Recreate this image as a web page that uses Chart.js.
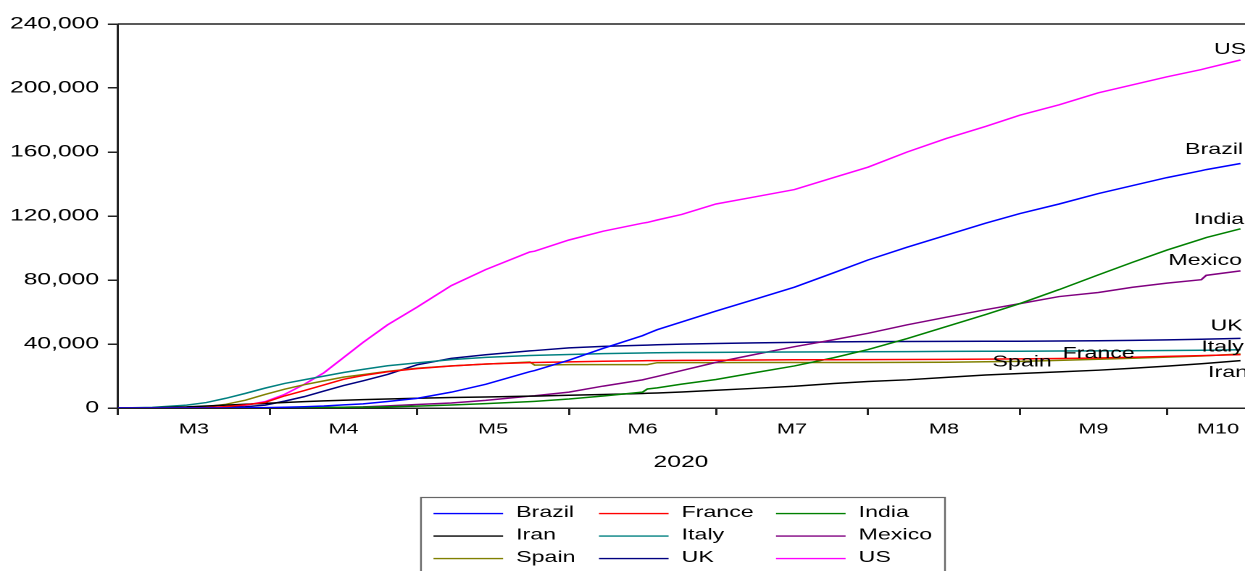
<!DOCTYPE html>
<html>
<head>
<meta charset="utf-8">
<script src="https://cdn.jsdelivr.net/npm/chart.js@4.4.0/dist/chart.umd.min.js"></script>
<style>
  html, body { margin: 0; padding: 0; background: #fff; overflow: hidden; }
  /* the picture is a horizontally stretched EViews graph: draw narrow, stretch in CSS */
  #caja { position: absolute; left: 0; top: 0; width: 859px; height: 571px;
          transform: scaleX(1.44936); transform-origin: 0 0; }
</style>
</head>
<body>
<div id="caja"><canvas id="grafico"></canvas></div>
<script>
const S = 1245 / 859;           // stretch factor
const FUENTE = '"Liberation Sans", Arial, sans-serif';

// day index: 0 = 1 March 2020
const dias = [0, 7, 14, 18, 22, 26, 30, 34, 38, 42, 46, 50, 55, 61, 68, 75, 84, 85, 92, 99,
  107, 108, 110, 115, 122, 130, 138, 146, 153, 161, 169, 177, 184, 192, 200, 207, 214, 221, 222, 229];

const brazil = [0, 0, 0, 4, 34, 92, 201, 445, 800, 1220, 1950, 2580, 4050, 6000, 9900, 14800, 22700, 23400, 29900, 37300,
  45200, 46500, 48950, 53800, 60600, 68000, 75500, 84500, 92500, 100500, 108000, 115500, 121500, 127500, 134000, 139000, 144000, 148300, 149000, 152800];
const france = [2, 19, 91, 244, 860, 1995, 3528, 7574, 10887, 14412, 17941, 20292, 22648, 24628, 26233, 27532, 28370, 28460, 28836, 29212,
  29550, 29578, 29640, 29734, 29864, 30007, 30155, 30195, 30268, 30324, 30410, 30528, 30686, 30916, 31257, 31700, 32230, 32700, 32800, 33340];
const india = [0, 0, 2, 4, 10, 20, 35, 83, 170, 300, 440, 560, 820, 1150, 1900, 2750, 4000, 4170, 5600, 7500,
  9900, 11900, 12600, 14900, 17800, 22100, 26300, 31400, 36500, 43400, 50900, 58400, 65300, 74000, 83200, 91100, 98700, 105500, 106500, 112000];
const iran = [54, 194, 724, 1284, 1812, 2378, 2898, 3452, 3993, 4474, 4869, 5209, 5650, 6091, 6541, 6902, 7417, 7451, 7942, 8425,
  9065, 9185, 9392, 9996, 11106, 12305, 13608, 15289, 16569, 17617, 19162, 20643, 21571, 22542, 23632, 24840, 26169, 27658, 27888, 29605];
const italy = [34, 366, 1809, 3405, 6077, 9134, 12428, 15362, 17669, 19899, 22170, 24114, 26384, 28236, 30201, 31610, 32785, 32877, 33475, 33964,
  34405, 34448, 34561, 34675, 34788, 34914, 35028, 35107, 35154, 35205, 35405, 35445, 35491, 35587, 35692, 35818, 35918, 36083, 36111, 36427];
const mexico = [0, 0, 0, 1, 4, 16, 29, 79, 174, 296, 486, 712, 1351, 2154, 3160, 4767, 7394, 7633, 9930, 13699,
  17580, 18310, 19747, 23377, 28510, 33526, 38310, 42645, 46688, 52006, 56757, 61450, 65241, 69649, 72179, 75439, 78078, 80200, 82900, 85700];
const spain = [0, 17, 288, 831, 2311, 4858, 8464, 11744, 14555, 16972, 19315, 20852, 22902, 24824, 26299, 27459, 28752, 26834, 27127, 27136,
  27136, 27136, 28315, 28327, 28364, 28401, 28420, 28432, 28445, 28503, 28617, 28924, 29152, 29747, 30495, 31118, 31791, 32486, 32688, 33775];
const uk = [0, 3, 21, 144, 335, 760, 1800, 4300, 7100, 10600, 14000, 17000, 21000, 27000, 31000, 33300, 35700, 35900, 37600, 38500,
  39200, 39300, 39500, 39900, 40300, 40700, 41000, 41300, 41450, 41550, 41650, 41700, 41750, 41850, 42050, 42300, 42600, 43000, 43050, 43500];
const us = [1, 21, 68, 200, 550, 1700, 4000, 8500, 14800, 22000, 31500, 41000, 52000, 63000, 76500, 86500, 97500, 98000, 105000, 110500,
  115500, 116000, 117500, 121000, 127500, 132000, 136500, 144000, 150500, 160000, 168500, 176000, 183000, 189500, 197000, 202000, 207000, 211500, 212300, 217500];

const paises = ['Brazil', 'France', 'India', 'Iran', 'Italy', 'Mexico', 'Spain', 'UK', 'US'];
const series = [brazil, france, india, iran, italy, mexico, spain, uk, us];
const colores = ['#0000ff', '#ff0000', '#008000', '#000000', '#008080', '#800080', '#808000', '#000080', '#ff00ff'];

// month boundaries and label positions (days from 1 March)
const limitesMes = [0, 31, 61, 92, 122, 153, 184, 214];
const centrosMes = [15.5, 46, 76.5, 107, 137.5, 168.5, 199, 224.4];
const etiquetasMes = ['M3', 'M4', 'M5', 'M6', 'M7', 'M8', 'M9', 'M10'];
const ticksY = [0, 40000, 80000, 120000, 160000, 200000, 240000];

// names written next to the lines: [text, day, value]
const rotulos = [
  ['US', 223.6, 225000], ['Brazil', 217.7, 162500], ['India', 219.5, 118750],
  ['Mexico', 214.3, 93100], ['UK', 222.9, 52200], ['Italy', 221, 39000],
  ['France', 192.7, 35000], ['Spain', 178.4, 29700], ['Iran', 222.4, 22900]
];

const marco = {
  id: 'marco',
  afterDraw(chart) {
    const {ctx, chartArea: a} = chart;
    ctx.save();
    ctx.strokeStyle = '#222';
    ctx.lineWidth = 1.5;
    ctx.beginPath();
    ctx.moveTo(a.left, a.top);
    ctx.lineTo(a.right + 2, a.top);
    ctx.stroke();
    ctx.restore();
  }
};

const nombres = {
  id: 'nombres',
  afterDatasetsDraw(chart) {
    const {ctx, scales: {x, y}} = chart;
    ctx.save();
    ctx.font = '16px ' + FUENTE;
    ctx.fillStyle = '#000';
    ctx.textAlign = 'left';
    ctx.textBaseline = 'alphabetic';
    rotulos.forEach(r => ctx.fillText(r[0], x.getPixelForValue(r[1]), y.getPixelForValue(r[2]) + 5.8));
    ctx.restore();
  }
};

const leyenda = {
  id: 'leyenda',
  afterDraw(chart) {
    const ctx = chart.ctx;
    const colX = [433.5 / S, 599 / S, 776 / S];
    ctx.save();
    ctx.strokeStyle = '#666';
    ctx.lineWidth = 1.2;
    ctx.strokeRect(421 / S, 497.5, (945 - 421) / S, 90);
    ctx.font = '16px ' + FUENTE;
    ctx.textBaseline = 'alphabetic';
    ctx.textAlign = 'left';
    chart.data.datasets.forEach((ds, i) => {
      const x0 = colX[i % 3];
      const yy = 513.6 + Math.floor(i / 3) * 22.5;
      ctx.strokeStyle = ds.borderColor;
      ctx.lineWidth = 1.4;
      ctx.beginPath();
      ctx.moveTo(x0, yy);
      ctx.lineTo(x0 + 48, yy);
      ctx.stroke();
      ctx.fillStyle = '#000';
      ctx.fillText(ds.label, x0 + 57, yy + 3.5);
    });
    ctx.restore();
  }
};

const todosTicks = limitesMes.concat(centrosMes).sort((a, b) => a - b);

new Chart(document.getElementById('grafico'), {
  type: 'line',
  data: {
    datasets: paises.map((p, k) => ({
      label: p,
      data: dias.map((d, i) => ({x: d, y: series[k][i]})),
      borderColor: colores[k],
      backgroundColor: colores[k],
      borderWidth: 1.5,
      pointRadius: 0,
      tension: 0,
      fill: false
    }))
  },
  options: {
    responsive: true,
    maintainAspectRatio: false,
    animation: false,
    devicePixelRatio: 2,
    layout: { padding: { top: 24, bottom: 98.3, left: 0, right: 0 } },
    plugins: { legend: { display: false }, tooltip: { enabled: false } },
    scales: {
      x: {
        type: 'linear',
        min: 0,
        max: 229.7,
        afterBuildTicks: s => { s.ticks = todosTicks.map(v => ({value: v})); },
        afterFit: s => { s.paddingRight = 0; s.paddingLeft = 0; },
        ticks: {
          autoSkip: false,
          maxRotation: 0,
          padding: 5.5,
          color: '#000',
          font: { family: FUENTE, size: 15 },
          callback: v => {
            const k = centrosMes.indexOf(v);
            return k >= 0 ? etiquetasMes[k] : '';
          }
        },
        grid: {
          drawOnChartArea: false,
          drawTicks: true,
          tickLength: 7,
          lineWidth: 1.5,
          color: c => (c.tick && limitesMes.includes(c.tick.value)) ? '#222' : 'rgba(0,0,0,0)'
        },
        border: { display: true, color: '#222', width: 1.5 },
        title: {
          display: true,
          text: '2020',
          color: '#000',
          font: { family: FUENTE, size: 17 },
          padding: { top: 8.3, bottom: 0 }
        }
      },
      y: {
        min: 0,
        max: 240000,
        afterBuildTicks: s => { s.ticks = ticksY.map(v => ({value: v})); },
        afterFit: s => { s.width = 118 / S; },
        ticks: {
          padding: 6.1,
          color: '#000',
          font: { family: FUENTE, size: 17 },
          callback: v => v.toLocaleString('en-US')
        },
        grid: { drawOnChartArea: false, drawTicks: true, tickLength: 7, lineWidth: 1.5, color: '#222' },
        border: { display: true, color: '#222', width: 1.5 }
      }
    }
  },
  plugins: [marco, nombres, leyenda]
});
</script>
</body>
</html>
